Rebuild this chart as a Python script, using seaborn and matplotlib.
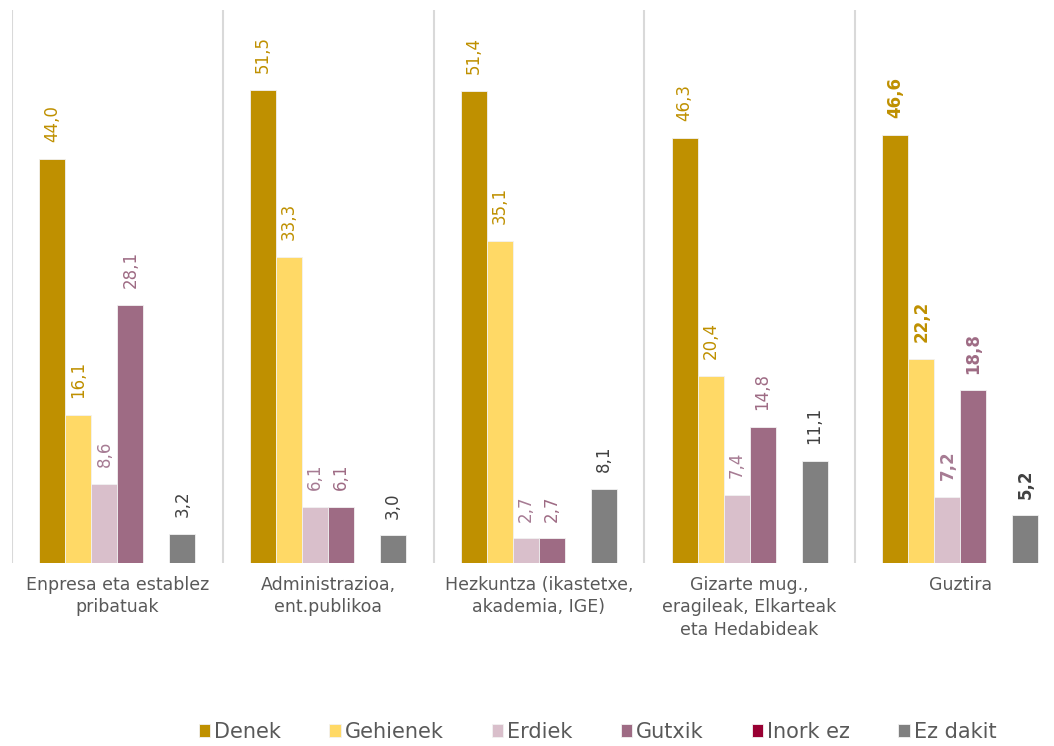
import pandas as pd
import seaborn as sns
import matplotlib.pyplot as plt

categories = ['Enpresa eta establez\npribatuak', 'Administrazioa,\nent.publikoa',
              'Hezkuntza (ikastetxe,\nakademia, IGE)',
              'Gizarte mug.,\neragileak, Elkarteak\neta Hedabideak', 'Guztira']
series = ['Denek', 'Gehienek', 'Erdiek', 'Gutxik', 'Inork ez', 'Ez dakit']
denek = [44.0, 51.5, 51.4, 46.3, 46.6]
gehienek = [16.1, 33.3, 35.1, 20.4, 22.2]
erdiek = [8.6, 6.1, 2.7, 7.4, 7.2]
gutxik = [28.1, 6.1, 2.7, 14.8, 18.8]
inork_ez = [0, 0, 0, 0, 0]
ez_dakit = [3.2, 3.0, 8.1, 11.1, 5.2]

colors = ['#BF9000', '#FFD966', '#D9BFCB', '#9E6B84', '#990033', '#808080']
label_colors = ['#BF9000', '#BF9000', '#A67B93', '#9E6B84', '#990033', '#404040']

df = pd.DataFrame({'cat': categories, 'Denek': denek, 'Gehienek': gehienek,
                   'Erdiek': erdiek, 'Gutxik': gutxik, 'Inork ez': inork_ez,
                   'Ez dakit': ez_dakit})
df = df.melt(id_vars='cat', var_name='series', value_name='value')

sns.set_style('white')
plt.rcParams['font.family'] = ['DejaVu Sans']

fig = plt.figure(figsize=(10.54, 7.46), dpi=100)
ax = fig.add_axes([12 / 1054, 183 / 746, 1042 / 1054, 553 / 746])

sns.barplot(data=df, x='cat', y='value', hue='series', hue_order=series,
            palette=colors, saturation=1, width=0.74, gap=0, errorbar=None,
            edgecolor='#F2F2F2', linewidth=0.6, ax=ax)

for i, cont in enumerate(ax.containers):
    vals = df[df['series'] == series[i]]['value'].tolist()
    if series[i] == 'Inork ez':
        continue
    labels = [f'{v:.1f}'.replace('.', ',') for v in vals]
    texts = ax.bar_label(cont, labels=labels, rotation=90, padding=12,
                         color=label_colors[i], fontsize=12)
    texts[-1].set_fontweight('bold')

for k in range(5):
    ax.axvline(k - 0.5, color='#D9D9D9', lw=1.5, zorder=0)

ax.set_xlim(-0.5, -0.5 + 1042 / 210.75)
ax.set_ylim(0, 60.2)
ax.set_xlabel('')
ax.set_ylabel('')
ax.set_yticks([])
ax.set_xticks(range(5))
ax.set_xticklabels(categories, fontsize=12.5, color='#595959', linespacing=1.35,
                   multialignment='center')
ax.tick_params(axis='x', length=0, pad=9)
sns.despine(ax=ax, left=True, bottom=True)

handles, labels = ax.get_legend_handles_labels()
ax.legend(handles, labels, loc='center', bbox_to_anchor=(0.567, 0.019),
          bbox_transform=fig.transFigure, ncol=6, frameon=False, fontsize=15,
          handlelength=0.55, handleheight=0.55, handletextpad=0.2,
          columnspacing=2.3, labelcolor='#595959')

fig.savefig('out.png', dpi=100)
